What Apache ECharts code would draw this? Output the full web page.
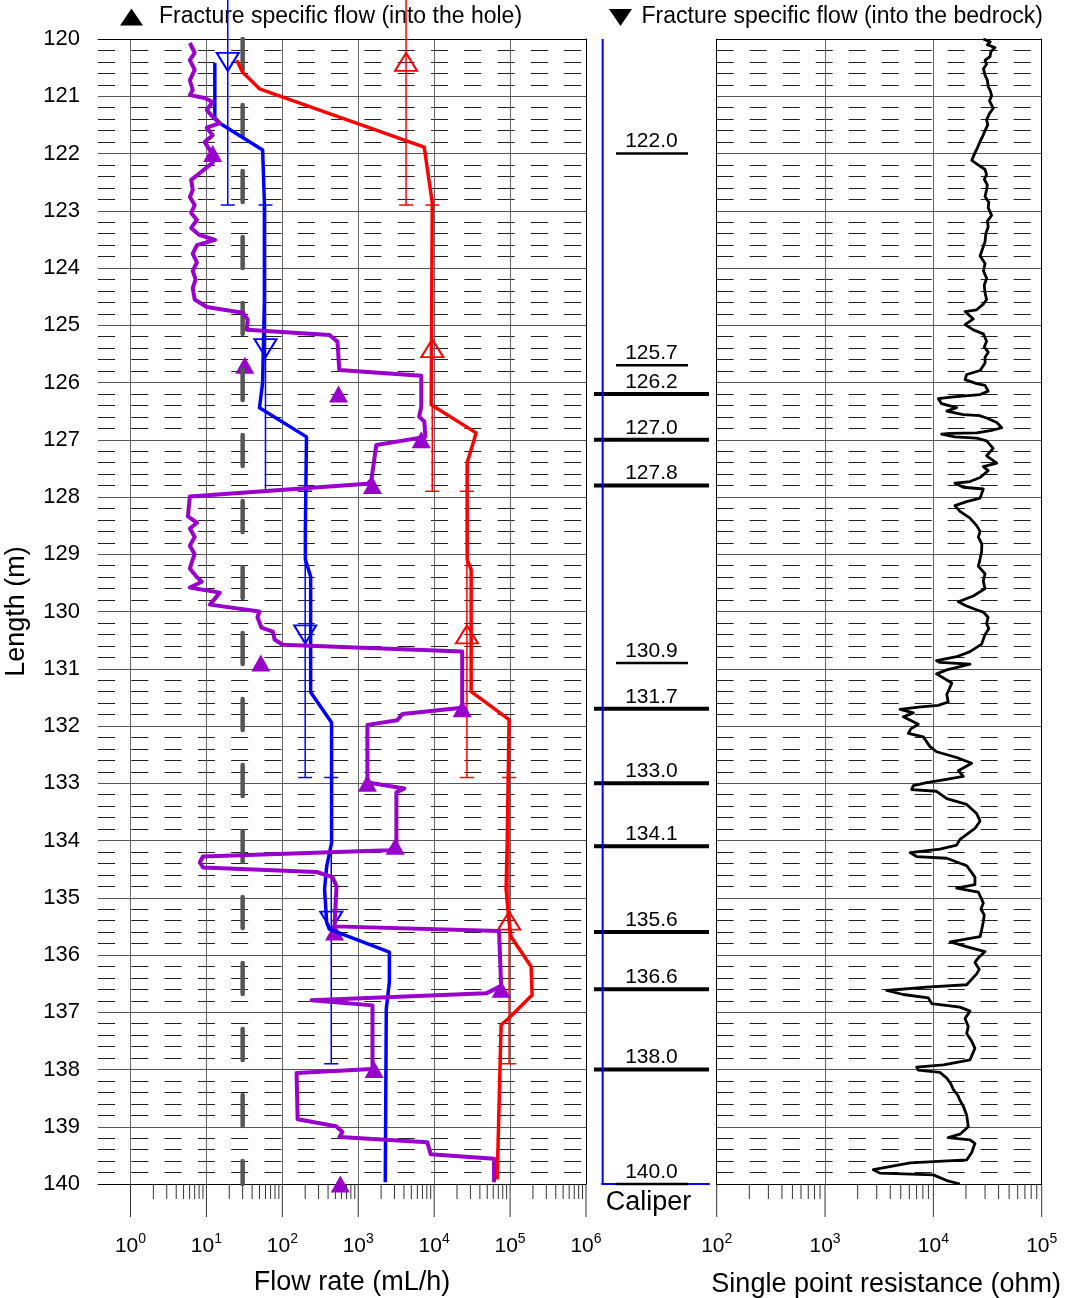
<!DOCTYPE html>
<html>
<head>
<meta charset="utf-8">
<title>Flow logging</title>
<script src="https://cdn.jsdelivr.net/npm/echarts@6/dist/echarts.min.js"></script>
<style>
html, body { margin: 0; padding: 0; background: #fff; }
#chart { width: 1069px; height: 1298px; }
</style>
</head>
<body>
<div id="chart"></div>
<script>
var FONT = '"Liberation Sans", Arial, sans-serif';

// all pairs are [length (m), value]
// flow along the hole (mL/h), purple
var purpleFlow = [
  [120.07, 6.05], [120.24, 7.0], [120.37, 6.05], [120.54, 7.0], [120.72, 6.05], [120.89, 6.6],
  [120.98, 6.05], [121.03, 9.5], [121.10, 12.1], [121.24, 10.1], [121.36, 12.1], [121.47, 15],
  [121.55, 10.1], [121.68, 12.1], [121.80, 9.5], [121.94, 11.1], [122.05, 12.5], [122.16, 12.1],
  [122.34, 8.2], [122.46, 6.3], [122.64, 6.6], [122.76, 6.05], [122.90, 7.0], [123.04, 6.3],
  [123.16, 7.5], [123.30, 6.3], [123.42, 8.0], [123.51, 13], [123.60, 7.5], [123.75, 6.6],
  [123.90, 7.5], [124.05, 6.6], [124.20, 7.2], [124.35, 6.6], [124.55, 7.0], [124.68, 10.1],
  [124.78, 30], [124.90, 35], [125.08, 34], [125.17, 418], [125.29, 533], [125.78, 562],
  [125.88, 6760], [126.42, 6760], [126.60, 6340], [126.68, 7420], [126.95, 7660], [127.09, 1730],
  [127.70, 1490], [127.77, 1320], [127.99, 6.05], [128.34, 5.7], [128.45, 7.5], [128.55, 6.05],
  [128.70, 7.0], [128.85, 6.05], [129.00, 7.0], [129.09, 6.6], [129.25, 6.05], [129.40, 7.5],
  [129.48, 8.7], [129.58, 6.05], [129.67, 15], [129.88, 11.1], [130.00, 50], [130.10, 47],
  [130.28, 53], [130.35, 75], [130.49, 79], [130.58, 101], [130.70, 23400], [131.68, 23400],
  [131.79, 3810], [131.90, 3270], [131.98, 1320], [132.97, 1320], [133.00, 1540], [133.09, 4050],
  [133.16, 3180], [134.07, 3180], [134.17, 2570], [134.28, 9.0], [134.38, 8.2], [134.47, 9.0],
  [134.55, 282], [134.64, 458], [134.80, 517], [135.50, 487], [135.52, 517], [135.58, 71600],
  [136.54, 76200], [136.67, 48400], [136.79, 243], [136.88, 1540], [137.99, 1540], [138.06, 154],
  [138.87, 159], [138.99, 510], [139.09, 620], [139.18, 566], [139.27, 8110], [139.48, 9000],
  [139.56, 61500], [139.97, 61500]
];

// lower and upper flow curves (mL/h)
var blueFlow = [
  [120.42, 12.9], [121.38, 12.9], [121.47, 15], [121.94, 55], [122.86, 58], [124.55, 58],
  [126.00, 55], [126.44, 50], [126.95, 208], [128.57, 201], [129.09, 201], [129.39, 236],
  [131.41, 236], [131.94, 445], [134.04, 445], [134.45, 384], [134.85, 360], [135.43, 384],
  [135.55, 415], [135.95, 2570], [136.47, 2570], [136.94, 2340], [139.97, 2270]
];
var redFlow = [
  [120.37, 25], [120.58, 30], [120.87, 50], [121.89, 7400], [122.86, 9440], [126.39, 9140],
  [126.88, 35700], [127.40, 27200], [129.09, 27200], [129.27, 30700], [131.40, 30700],
  [131.89, 97000], [134.10, 91400], [134.85, 88600], [135.43, 97000], [135.68, 103000],
  [136.20, 189000], [136.70, 195000], [137.10, 97000], [137.22, 76200], [139.92, 67600]
];

// measurement limit (mL/h)
var limitDepth = [120, 140];
var limitFlow = [30, 30];

// 5 m sections, fracture specific flow into the bedrock / into the hole
var sectionTop = [117.9, 122.9, 127.9, 132.9];
var sectionBottom = [122.9, 127.9, 132.9, 137.9];
var sectionMid = [120.4, 125.4, 130.4, 135.4];
var sectionBlue = [19.1, 60, 200, 441];
var sectionRed = [4260, 9440, 27000, 97000];

// fracture specific flow into the hole (mL/h)
var fractureFlow = [
  [122.0, 12.1], [125.7, 32], [126.2, 550], [127.0, 6760], [127.8, 1540], [130.9, 52],
  [131.7, 23400], [133.0, 1320], [134.1, 3070], [135.6, 487], [136.6, 76200], [138.0, 1620],
  [140.0, 580]
];

// caliper column
var caliperDepth = [120, 140];
var caliperValue = [0.006, 0.006];
var fractureDepth = [122.0, 125.7, 126.2, 127.0, 127.8, 130.9, 131.7, 133.0, 134.1, 135.6, 136.6, 138.0, 140.0];
var fractureMain = [0, 0, 1, 1, 1, 0, 1, 1, 1, 1, 1, 1, 0];

// single point resistance (ohm)
var resistance = [
  [120.00, 28900], [120.05, 33500], [120.10, 31500], [120.15, 37100], [120.22, 34000], [120.31, 33300],
  [120.37, 30000], [120.44, 31000], [120.52, 29000], [120.63, 30000], [120.72, 31500], [120.83, 32100],
  [120.90, 33500], [120.99, 34500], [121.08, 33000], [121.21, 35700], [121.30, 33000], [121.41, 31000],
  [121.50, 31800], [121.60, 30000], [121.70, 28500], [121.79, 27000], [121.90, 25500], [121.99, 24200],
  [122.12, 22600], [122.18, 25100], [122.28, 30000], [122.37, 31000], [122.45, 29500], [122.55, 31500],
  [122.63, 31000], [122.75, 30000], [122.85, 32500], [122.95, 32100], [123.08, 34500], [123.18, 31500],
  [123.28, 32100], [123.40, 30500], [123.54, 30000], [123.66, 28500], [123.79, 27000], [123.92, 30000],
  [124.05, 29000], [124.18, 31000], [124.30, 29500], [124.44, 30000], [124.55, 31000], [124.63, 28900],
  [124.73, 25100], [124.76, 19600], [124.89, 23400], [124.99, 19600], [125.08, 23400], [125.15, 28900],
  [125.28, 31000], [125.38, 29500], [125.47, 32100], [125.56, 30000], [125.66, 30000], [125.79, 27000],
  [125.86, 20300], [125.95, 19600], [126.02, 25100], [126.05, 30000], [126.15, 32100], [126.21, 27000],
  [126.25, 15300], [126.28, 11100], [126.37, 11900], [126.44, 16400], [126.50, 13300], [126.56, 18900],
  [126.58, 27000], [126.62, 31000], [126.70, 38500], [126.79, 42800], [126.83, 35700], [126.88, 25100],
  [126.89, 14300], [126.90, 11900], [126.95, 15800], [126.97, 25100], [127.02, 31000], [127.15, 35700],
  [127.28, 31000], [127.41, 38500], [127.47, 28900], [127.54, 32100], [127.66, 27000], [127.73, 21800],
  [127.76, 15800], [127.83, 18900], [127.86, 28900], [128.02, 27000], [128.08, 20300], [128.15, 15800],
  [128.25, 17600], [128.37, 21800], [128.50, 25100], [128.60, 27000], [128.70, 26000], [128.82, 28000],
  [128.95, 27900], [129.08, 27000], [129.21, 26000], [129.34, 30000], [129.47, 28900], [129.60, 30000],
  [129.73, 23400], [129.83, 17000], [129.90, 20000], [129.97, 25000], [130.01, 28900], [130.10, 32000],
  [130.21, 31000], [130.30, 32500], [130.40, 30000], [130.57, 27900], [130.70, 21800], [130.79, 16400],
  [130.86, 10700], [130.89, 11500], [130.92, 21800], [131.02, 13300], [131.09, 10700], [131.25, 14800],
  [131.45, 13300], [131.58, 13700], [131.64, 11100], [131.67, 7260], [131.71, 4920], [131.77, 6530],
  [131.84, 5280], [131.97, 7260], [132.05, 6200], [132.13, 5870], [132.19, 8070], [132.36, 9310],
  [132.45, 10700], [132.55, 16400], [132.65, 22600], [132.78, 17000], [132.88, 18900], [132.94, 12400],
  [132.99, 8670], [133.04, 6530], [133.11, 6310], [133.14, 10700], [133.27, 13300], [133.37, 20300],
  [133.53, 25100], [133.66, 27000], [133.79, 24200], [133.98, 17600], [134.08, 16400], [134.15, 11500],
  [134.21, 6100], [134.28, 7010], [134.31, 13300], [134.44, 20300], [134.64, 24200], [134.77, 24200],
  [134.83, 16400], [134.90, 26000], [135.09, 28900], [135.20, 27500], [135.30, 29500], [135.42, 28900],
  [135.55, 28000], [135.68, 27000], [135.77, 14300], [135.87, 21800], [135.94, 30000], [136.05, 26000],
  [136.13, 24200], [136.25, 26500], [136.33, 25100], [136.52, 20300], [136.56, 8670], [136.62, 3710],
  [136.69, 5280], [136.75, 8990], [136.85, 9660], [136.91, 17600], [136.98, 21800], [137.11, 19600],
  [137.25, 21000], [137.37, 20300], [137.50, 22500], [137.63, 24200], [137.83, 21800], [137.92, 12400],
  [137.96, 7010], [138.01, 7260], [138.05, 11500], [138.15, 13300], [138.25, 14500], [138.35, 15300],
  [138.45, 16800], [138.54, 17600], [138.65, 19000], [138.80, 20300], [139.00, 21000], [139.13, 17600],
  [139.19, 13700], [139.23, 21800], [139.29, 24200], [139.45, 22600], [139.58, 20300], [139.63, 6100],
  [139.75, 2790], [139.81, 3220], [139.84, 10000], [139.94, 13300], [140.00, 17600]
];

var flowMajorTicks = [1, 10, 100, 1e3, 1e4, 1e5, 1e6];
var resMajorTicks = [100, 1e3, 1e4, 1e5];
var flowMinorTicks = [];
for (var d = 0; d < 6; d++) {
  for (var m = 2; m < 10; m++) flowMinorTicks.push(m * Math.pow(10, d));
}
var resMinorTicks = [];
for (var d2 = 2; d2 < 5; d2++) {
  for (var m2 = 2; m2 < 10; m2++) resMinorTicks.push(m2 * Math.pow(10, d2));
}

function swap(rows) {
  return rows.map(function (r) { return [r[1], r[0]]; });
}

function powLabel(v) {
  var l = Math.log10(v);
  var e = Math.round(l);
  if (Math.abs(l - e) > 1e-6) return '';
  return '{b|10}{s|' + e + '}';
}

var powRich = {
  b: { fontSize: 21, fontFamily: FONT, color: '#000', lineHeight: 28 },
  s: { fontSize: 14, fontFamily: FONT, color: '#000', lineHeight: 16, verticalAlign: 'top' }
};

function tickSeries(xi, yi, values, len) {
  return {
    type: 'custom', xAxisIndex: xi, yAxisIndex: yi, silent: true, clip: false,
    data: values.map(function (v) { return [v, 140]; }),
    renderItem: function (params, api) {
      var p = api.coord([api.value(0), api.value(1)]);
      return {
        type: 'line',
        shape: { x1: p[0], y1: p[1], x2: p[0], y2: p[1] + len },
        style: { stroke: '#333', lineWidth: 1 }
      };
    }
  };
}

function sectionSeries(values, color) {
  return {
    type: 'custom', xAxisIndex: 0, yAxisIndex: 0, silent: true, clip: false,
    data: values.map(function (v, i) { return [v, sectionTop[i], sectionBottom[i]]; }),
    renderItem: function (params, api) {
      var v = api.value(0);
      var a = api.coord([v, api.value(1)]);
      var b = api.coord([v, api.value(2)]);
      var st = { stroke: color, lineWidth: 1.5 };
      return {
        type: 'group',
        children: [
          { type: 'line', shape: { x1: a[0], y1: a[1], x2: b[0], y2: b[1] }, style: st },
          { type: 'line', shape: { x1: a[0] - 7, y1: a[1], x2: a[0] + 7, y2: a[1] }, style: st },
          { type: 'line', shape: { x1: b[0] - 7, y1: b[1], x2: b[0] + 7, y2: b[1] }, style: st }
        ]
      };
    }
  };
}

function depthAxis(grid, opts) {
  var ax = {
    type: 'value', gridIndex: grid, min: 120, max: 140, interval: 1, inverse: true,
    axisLine: { show: false }, axisTick: { show: false }, axisLabel: { show: false },
    splitLine: { show: false }, minorSplitLine: { show: false }
  };
  for (var k in opts) ax[k] = opts[k];
  return ax;
}

var chart = echarts.init(document.getElementById('chart'));

var option = {
  animation: false,
  backgroundColor: '#fff',
  textStyle: { fontFamily: FONT },
  grid: [
    { left: 98, top: 39, width: 488, height: 1145, outerBoundsMode: 'none', containLabel: false },
    { left: 602, top: 39, width: 107, height: 1145, outerBoundsMode: 'none', containLabel: false },
    { left: 716.7, top: 39, width: 325, height: 1145, outerBoundsMode: 'none', containLabel: false }
  ],
  xAxis: [
    {
      type: 'log', logBase: 10, gridIndex: 0, min: 0.373, max: 1e6, position: 'bottom',
      axisLine: { show: true, lineStyle: { color: '#000', width: 1 } },
      axisTick: { show: false },
      axisLabel: { margin: 48, formatter: powLabel, rich: powRich, showMinLabel: true, showMaxLabel: true },
      splitLine: { show: true, showMinLine: false, showMaxLine: false, lineStyle: { color: '#666', width: 1 } },
      name: 'Flow rate (mL/h)', nameLocation: 'middle', nameGap: 85,
      nameTextStyle: { fontSize: 27, fontFamily: FONT, color: '#000', padding: [0, 0, 0, 20] }
    },
    {
      type: 'value', gridIndex: 0, min: 0, max: 1, position: 'top',
      axisLine: { show: true, lineStyle: { color: '#000', width: 1 } },
      axisTick: { show: false }, axisLabel: { show: false }, splitLine: { show: false }
    },
    {
      type: 'value', gridIndex: 1, min: 0, max: 1, position: 'bottom',
      axisLine: { show: true, lineStyle: { color: '#0000ff', width: 2 } },
      axisTick: { show: false }, axisLabel: { show: false }, splitLine: { show: false },
      name: 'Caliper', nameLocation: 'middle', nameGap: 5,
      nameTextStyle: { fontSize: 27, fontFamily: FONT, color: '#000', padding: [0, 14, 0, 0] }
    },
    {
      type: 'log', logBase: 10, gridIndex: 2, min: 100, max: 1e5, position: 'bottom',
      axisLine: { show: true, lineStyle: { color: '#000', width: 1 } },
      axisTick: { show: false },
      axisLabel: { margin: 48, formatter: powLabel, rich: powRich, showMinLabel: true, showMaxLabel: true },
      splitLine: { show: true, showMinLine: false, showMaxLine: false, lineStyle: { color: '#666', width: 1 } },
      name: 'Single point resistance (ohm)', nameLocation: 'middle', nameGap: 87,
      nameTextStyle: { fontSize: 27, fontFamily: FONT, color: '#000', padding: [0, 0, 0, 14] }
    },
    {
      type: 'value', gridIndex: 2, min: 0, max: 1, position: 'top',
      axisLine: { show: true, lineStyle: { color: '#000', width: 1 } },
      axisTick: { show: false }, axisLabel: { show: false }, splitLine: { show: false }
    }
  ],
  yAxis: [
    depthAxis(0, {
      position: 'left',
      axisLabel: { show: true, fontSize: 22, fontFamily: FONT, color: '#000', margin: 18 },
      splitLine: { show: true, showMinLine: false, showMaxLine: false, lineStyle: { color: '#555', width: 1 } },
      minorTick: { show: false, splitNumber: 5 },
      minorSplitLine: { show: true, lineStyle: { color: '#222', width: 1, type: [17, 16.3], dashOffset: 0 } },
      name: 'Length (m)', nameLocation: 'middle', nameGap: 68,
      nameTextStyle: { fontSize: 27, fontFamily: FONT, color: '#000' }
    }),
    depthAxis(0, { position: 'right', axisLine: { show: true, lineStyle: { color: '#000', width: 1 } } }),
    depthAxis(1, { position: 'left' }),
    depthAxis(2, {
      position: 'left',
      axisLine: { show: true, lineStyle: { color: '#000', width: 1 } },
      splitLine: { show: true, showMinLine: false, showMaxLine: false, lineStyle: { color: '#555', width: 1 } },
      minorTick: { show: false, splitNumber: 5 },
      minorSplitLine: { show: true, lineStyle: { color: '#222', width: 1, type: [17, 16], dashOffset: 0 } }
    }),
    depthAxis(2, { position: 'right', axisLine: { show: true, lineStyle: { color: '#000', width: 1 } } })
  ],
  graphic: [
    { type: 'polygon', shape: { points: [[120, 25.5], [143, 25.5], [131.5, 8.5]] }, style: { fill: '#000' } },
    {
      type: 'text', x: 159, y: 17,
      style: { text: 'Fracture specific flow (into the hole)', fontSize: 23, fontFamily: FONT, fill: '#000',
        verticalAlign: 'middle', textVerticalAlign: 'middle' }
    },
    { type: 'polygon', shape: { points: [[609, 9], [632, 9], [620.5, 26]] }, style: { fill: '#000' } },
    {
      type: 'text', x: 641.5, y: 17,
      style: { text: 'Fracture specific flow (into the bedrock)', fontSize: 23, fontFamily: FONT, fill: '#000',
        verticalAlign: 'middle', textVerticalAlign: 'middle' }
    }
  ],
  series: [
    tickSeries(0, 0, flowMinorTicks, 15),
    tickSeries(0, 0, flowMajorTicks, 33),
    tickSeries(3, 3, resMinorTicks, 15),
    tickSeries(3, 3, resMajorTicks, 33),
    {
      name: 'limit', type: 'line', xAxisIndex: 0, yAxisIndex: 0, symbol: 'none', silent: true,
      data: limitDepth.map(function (dp, i) { return [limitFlow[i], dp]; }),
      lineStyle: { color: '#555', width: 4.5, type: [31, 35], cap: 'round' }
    },
    sectionSeries(sectionBlue, '#0000ff'),
    sectionSeries(sectionRed, '#ff0000'),
    {
      name: 'upper', type: 'line', xAxisIndex: 0, yAxisIndex: 0, symbol: 'none', silent: true,
      data: swap(redFlow), lineStyle: { color: '#ff0000', width: 3.5, join: 'round' }
    },
    {
      name: 'lower', type: 'line', xAxisIndex: 0, yAxisIndex: 0, symbol: 'none', silent: true,
      data: swap(blueFlow), lineStyle: { color: '#0000ff', width: 3.5, join: 'round' }
    },
    {
      name: 'flow', type: 'line', xAxisIndex: 0, yAxisIndex: 0, symbol: 'none', silent: true,
      data: swap(purpleFlow), lineStyle: { color: '#9900cc', width: 4, join: 'round' }
    },
    {
      name: 'into bedrock', type: 'scatter', xAxisIndex: 0, yAxisIndex: 0, silent: true,
      symbol: 'triangle', symbolRotate: 180, symbolSize: [22, 18],
      data: sectionBlue.map(function (v, i) { return [v, sectionMid[i]]; }),
      itemStyle: { color: 'rgba(0,0,0,0)', borderColor: '#0000ff', borderWidth: 2, opacity: 1 }
    },
    {
      name: 'into hole red', type: 'scatter', xAxisIndex: 0, yAxisIndex: 0, silent: true,
      symbol: 'triangle', symbolSize: [22, 18],
      data: sectionRed.map(function (v, i) { return [v, sectionMid[i]]; }),
      itemStyle: { color: 'rgba(0,0,0,0)', borderColor: '#ff0000', borderWidth: 2, opacity: 1 }
    },
    {
      name: 'into hole', type: 'scatter', xAxisIndex: 0, yAxisIndex: 0, silent: true,
      symbol: 'triangle', symbolSize: [19, 17], clip: false,
      data: swap(fractureFlow),
      itemStyle: { color: '#9900cc', opacity: 1 }
    },
    {
      name: 'caliper', type: 'line', xAxisIndex: 2, yAxisIndex: 2, symbol: 'none', silent: true,
      data: caliperDepth.map(function (dp, i) { return [caliperValue[i], dp]; }),
      lineStyle: { color: '#0000ff', width: 2 }
    },
    {
      name: 'fractures', type: 'custom', xAxisIndex: 2, yAxisIndex: 2, silent: true, clip: false,
      data: fractureDepth.map(function (dp, i) {
        return fractureMain[i] ? [-0.075, 1.0, dp, 4] : [0.131, 0.804, dp, 2.5];
      }),
      renderItem: function (params, api) {
        var dp = api.value(2);
        var p0 = api.coord([api.value(0), dp]);
        var p1 = api.coord([api.value(1), dp]);
        var pc = api.coord([0.462, dp]);
        return {
          type: 'group',
          children: [
            { type: 'line', shape: { x1: p0[0], y1: p0[1], x2: p1[0], y2: p1[1] },
              style: { stroke: '#000', lineWidth: api.value(3) } },
            { type: 'text', x: pc[0], y: pc[1] - 1.5,
              style: { text: dp.toFixed(1), fontSize: 21, fontFamily: FONT, fill: '#000',
                align: 'center', textAlign: 'center', verticalAlign: 'bottom', textVerticalAlign: 'bottom' } }
          ]
        };
      }
    },
    {
      name: 'resistance', type: 'line', xAxisIndex: 3, yAxisIndex: 3, symbol: 'none', silent: true,
      data: swap(resistance), lineStyle: { color: '#000', width: 2.8, join: 'round' }
    }
  ]
};

chart.setOption(option);
</script>
</body>
</html>
